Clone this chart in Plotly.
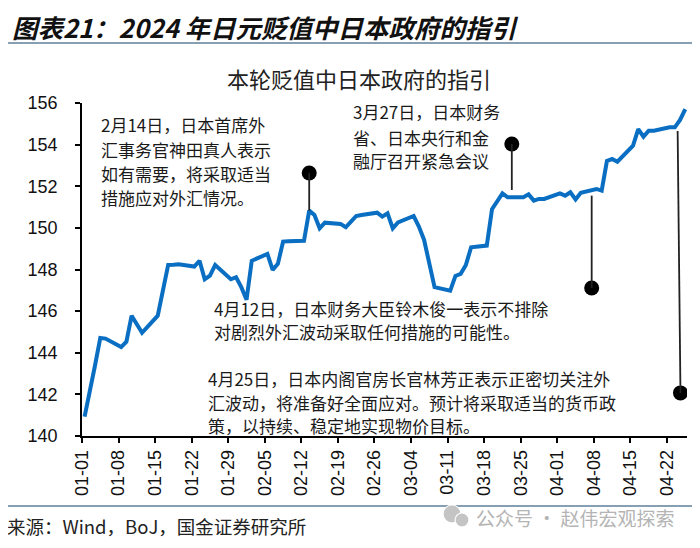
import plotly.graph_objects as go
from datetime import datetime, timedelta

# USDJPY daily (weekdays)
dates = [
    "01-01", "01-02", "01-03", "01-04", "01-05",
    "01-08", "01-09", "01-10", "01-11", "01-12",
    "01-15", "01-16", "01-17", "01-18", "01-19",
    "01-22", "01-23", "01-24", "01-25", "01-26",
    "01-29", "01-30", "01-31", "02-01", "02-02",
    "02-05", "02-06", "02-07", "02-08", "02-09",
    "02-12", "02-13", "02-14", "02-15", "02-16",
    "02-19", "02-20", "02-21", "02-22", "02-23",
    "02-26", "02-27", "02-28", "02-29", "03-01",
    "03-04", "03-05", "03-06", "03-07", "03-08",
    "03-11", "03-12", "03-13", "03-14", "03-15",
    "03-18", "03-19", "03-20", "03-21", "03-22",
    "03-25", "03-26", "03-27", "03-28", "03-29",
    "04-01", "04-02", "04-03", "04-04", "04-05",
    "04-08", "04-09", "04-10", "04-11", "04-12",
    "04-15", "04-16", "04-17", "04-18", "04-19",
    "04-22", "04-23", "04-24", "04-25",
]
usdjpy = [
    140.93, 142.10, 143.40, 144.71, 144.68,
    144.27, 144.53, 145.78, 145.35, 144.96,
    145.78, 147.05, 148.22, 148.23, 148.25,
    148.14, 148.42, 147.53, 147.70, 148.22,
    147.53, 147.63, 147.15, 146.55, 148.42,
    148.75, 147.98, 148.27, 149.34, 149.36,
    149.38, 150.83, 150.62, 149.98, 150.25,
    150.19, 150.03, 150.30, 150.57, 150.62,
    150.73, 150.54, 150.70, 149.98, 150.26,
    150.57, 150.06, 149.42, 148.30, 147.15,
    146.98, 147.69, 147.79, 148.22, 149.07,
    149.15, 150.90, 151.26, 151.66, 151.47,
    151.47, 151.61, 151.31, 151.39, 151.39,
    151.66, 151.55, 151.71, 151.37, 151.69,
    151.87, 151.79, 153.21, 153.31, 153.18,
    153.95, 154.74, 154.38, 154.67, 154.67,
    154.83, 154.83, 155.19, 155.70,
]
tick_labels = ["01-01", "01-08", "01-15", "01-22", "01-29", "02-05", "02-12",
               "02-19", "02-26", "03-04", "03-11", "03-18", "03-25", "04-01",
               "04-08", "04-15", "04-22"]
y_ticks = [140, 142, 144, 146, 148, 150, 152, 154, 156]

# callouts: stem start (on the line), dot position
callout_line_x = ["2024-02-13 00:00", "2024-03-22 19:00", "2024-04-07 02:00", "2024-04-23 13:00"]
callout_line_y = [150.83, 151.82, 151.55, 154.66]
callout_dot_x = ["2024-02-13 00:00", "2024-03-22 19:00", "2024-04-07 02:00", "2024-04-24 02:00"]
callout_dot_y = [152.64, 154.03, 147.11, 142.07]

notes = [
    ["2月14日，日本首席外", "汇事务官神田真人表示", "如有需要，将采取适当", "措施应对外汇情况。"],
    ["3月27日，日本财务", "省、日本央行和金", "融厅召开紧急会议"],
    ["4月12日，日本财务大臣铃木俊一表示不排除", "对剧烈外汇波动采取任何措施的可能性。"],
    ["4月25日，日本内阁官房长官林芳正表示正密切关注外",
     "汇波动，将准备好全面应对。预计将采取适当的货币政",
     "策，以持续、稳定地实现物价目标。"],
]

x = [datetime.strptime("2024-" + d, "%Y-%m-%d") for d in dates]
# ticks sit between day slots, like the source chart
half = timedelta(hours=12)
tickvals = [datetime.strptime("2024-" + t, "%Y-%m-%d") - half for t in tick_labels]

CJK = "Noto Sans CJK SC"
OFF = 8  # page body margin
W, H = 700 - OFF, 548 - OFF
L, R, T, B = 82 - OFF, 13, 103 - OFF, 112
PW, PH = W - L - R, H - T - B


def px(xs, ys):
    # screen pixel -> paper coords
    xf, yf = xs - OFF, ys - OFF
    return (xf - L) / PW, (H - B - yf) / PH


fig = go.Figure()

fig.add_trace(go.Scatter(
    x=x, y=usdjpy, mode="lines",
    line=dict(color="#0a6fc2", width=4),
    showlegend=False, hoverinfo="x+y",
))

for x0, y0, x1, y1 in zip(callout_line_x, callout_line_y, callout_dot_x, callout_dot_y):
    fig.add_shape(type="line", x0=x0, y0=y0, x1=x1, y1=y1,
                  line=dict(color="#222222", width=1.8), layer="above")

fig.add_trace(go.Scatter(
    x=callout_dot_x, y=callout_dot_y, mode="markers",
    marker=dict(color="black", size=15), showlegend=False, hoverinfo="skip",
))

annotations = []


def text(s, xs, ys, size, anchor="left", color="#1a1a1a"):
    ax, ay = px(xs, ys)
    annotations.append(dict(
        text=s, x=ax, y=ay, xref="paper", yref="paper", xanchor=anchor,
        yanchor="middle", showarrow=False, borderpad=0,
        font=dict(family=CJK, size=size, color=color)))


note_pos = [(100, [124, 149, 173, 197]), (352, [112, 137, 160]),
            (213, [308, 331]), (207, [378, 402, 425])]
for lines, (nx, ys) in zip(notes, note_pos):
    for s, yy in zip(lines, ys):
        text(s, nx, yy, 17)

text("<b><i>图表21：2024 年日元贬值中日本政府的指引</i></b>", 11, 26, 25.5, color="#111111")
text("本轮贬值中日本政府的指引", 359, 78, 22, anchor="center", color="#222222")
text("来源：Wind，BoJ，国金证券研究所", 6, 526, 18.5, color="#222222")
text("公众号 · 赵伟宏观探索", 676, 517, 19, anchor="right", color="#b4b4b4")

fig.update_layout(annotations=annotations)

# header / footer rules and watermark icon
for yy in (43, 506):
    y0 = px(0, yy)[1]
    fig.add_shape(type="line", xref="paper", yref="paper", x0=px(0, 0)[0], x1=px(710, 0)[0],
                  y0=y0, y1=y0, line=dict(color="#5f7f99", width=1.5))
for cx, cy, r in [(452, 514, 9), (462, 520, 7)]:
    x0, y0 = px(cx - r, cy + r)
    x1, y1 = px(cx + r, cy - r)
    fig.add_shape(type="circle", xref="paper", yref="paper", x0=x0, y0=y0, x1=x1, y1=y1,
                  fillcolor="#c4c4c4", line=dict(color="white", width=1.2))

fig.update_xaxes(
    type="date",
    range=[datetime(2023, 12, 31, 12), datetime(2024, 4, 25, 8)],
    tickmode="array", tickvals=tickvals, ticktext=tick_labels,
    tickangle=-90, ticks="outside", ticklen=5, tickcolor="black", tickwidth=1.5,
    showline=True, linecolor="black", linewidth=1.5, showgrid=False, zeroline=False,
    tickfont=dict(family="Arial", size=18, color="#111111"),
)
fig.update_yaxes(
    range=[140, 156], tickvals=y_ticks,
    ticks="outside", ticklen=5, tickcolor="black", tickwidth=1.5,
    showline=True, linecolor="black", linewidth=1.5, showgrid=False, zeroline=False,
    tickfont=dict(family="Arial", size=18, color="#111111"),
    ticklabelstandoff=14,
)
fig.update_layout(
    width=W, height=H,
    margin=dict(l=L, r=R, t=T, b=B),
    plot_bgcolor="white", paper_bgcolor="white",
    showlegend=False,
)

fig.write_html("out.html")
